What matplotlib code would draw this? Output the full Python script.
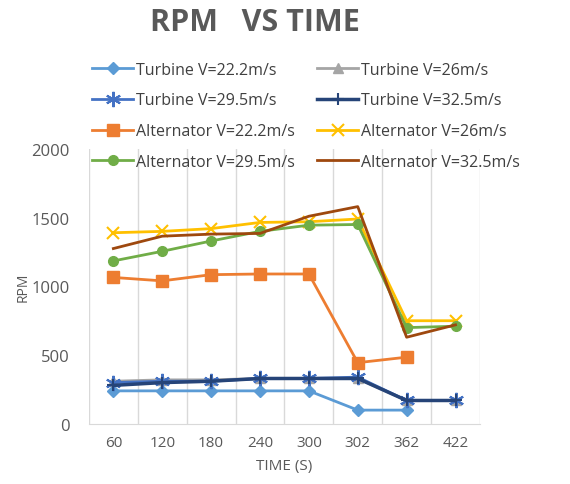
import matplotlib.pyplot as plt
import numpy as np

plt.rcParams['font.family'] = ['Open Sans', 'DejaVu Sans']

times = ['60', '120', '180', '240', '300', '302', '362', '422']

turbine_222 = [240, 240, 240, 240, 240, 100, 100, None]
turbine_26 = [310, 320, 320, 330, 330, 330, 170, 170]
turbine_295 = [300, 310, 310, 330, 330, 340, 170, 170]
turbine_325 = [280, 300, 310, 330, 330, 330, 170, 170]
alt_222 = [1065, 1040, 1085, 1090, 1090, 445, 485, None]
alt_26 = [1390, 1400, 1420, 1465, 1470, 1490, 750, 750]
alt_295 = [1185, 1255, 1330, 1400, 1445, 1450, 700, 710]
alt_325 = [1275, 1365, 1380, 1385, 1510, 1580, 630, 720]

series = [
    ('Turbine V=22.2m/s', turbine_222, '#5B9BD5', 'D', 6, 2.0),
    ('Turbine V=26m/s', turbine_26, '#A5A5A5', '^', 7, 2.0),
    ('Turbine V=29.5m/s', turbine_295, '#4472C4', (6, 2, 0), 11, 2.0),
    ('Turbine V=32.5m/s', turbine_325, '#264478', '+', 9, 2.5),
    ('Alternator V=22.2m/s', alt_222, '#ED7D31', 's', 8, 2.0),
    ('Alternator V=26m/s', alt_26, '#FFC000', 'x', 9, 2.0),
    ('Alternator V=29.5m/s', alt_295, '#70AD47', 'o', 7, 2.0),
    ('Alternator V=32.5m/s', alt_325, '#9E480E', None, 0, 2.0),
]

fig = plt.figure(figsize=(5.7, 4.85), dpi=100)
ax = fig.add_axes([0.156, 0.124, 0.686, 0.567])

x = np.arange(len(times))
lines = []
for label, vals, color, marker, ms, lw in series:
    y = np.array([np.nan if v is None else v for v in vals], dtype=float)
    ln, = ax.plot(x, y, color=color, marker=marker, markersize=ms, linewidth=lw,
                  markeredgewidth=1.5 if marker in ('x', '+', (6, 2, 0)) else 1,
                  label=label)
    lines.append(ln)

ax.set_xlim(-0.5, len(times) - 0.5)
ax.set_ylim(0, 2000)
ax.set_yticks([0, 500, 1000, 1500, 2000])
ax.set_xticks(x)
ax.set_xticklabels(times)
ax.set_xticks(np.arange(-0.5, len(times), 1), minor=True)
ax.grid(True, which='minor', axis='x', color='#D9D9D9', linewidth=1)
ax.tick_params(which='both', length=0, colors='#595959', labelsize=11)
ax.tick_params(axis='x', pad=8)
ax.tick_params(axis='y', labelsize=12, pad=14)
for s in ['top', 'right', 'left']:
    ax.spines[s].set_visible(False)
ax.spines['bottom'].set_color('#D9D9D9')

ax.set_xlabel('TIME (S)', color='#595959', fontsize=11, labelpad=6)
ax.set_ylabel('RPM', color='#595959', fontsize=10, labelpad=0)

fig.text(0.447, 0.953, 'RPM   VS TIME', ha='center', va='center', fontsize=22,
         fontweight='bold', color='#595959')

# legend filled row by row, like the original
order = [0, 2, 4, 6, 1, 3, 5, 7]
fig.legend(handles=[lines[i] for i in order], loc='upper left',
           bbox_to_anchor=(0.147, 0.887), ncol=2, frameon=False, fontsize=11.5,
           labelcolor='#404040', handlelength=2.6, handletextpad=0.15,
           columnspacing=1.4, labelspacing=0.92, borderpad=0)

fig.savefig('out.png')
